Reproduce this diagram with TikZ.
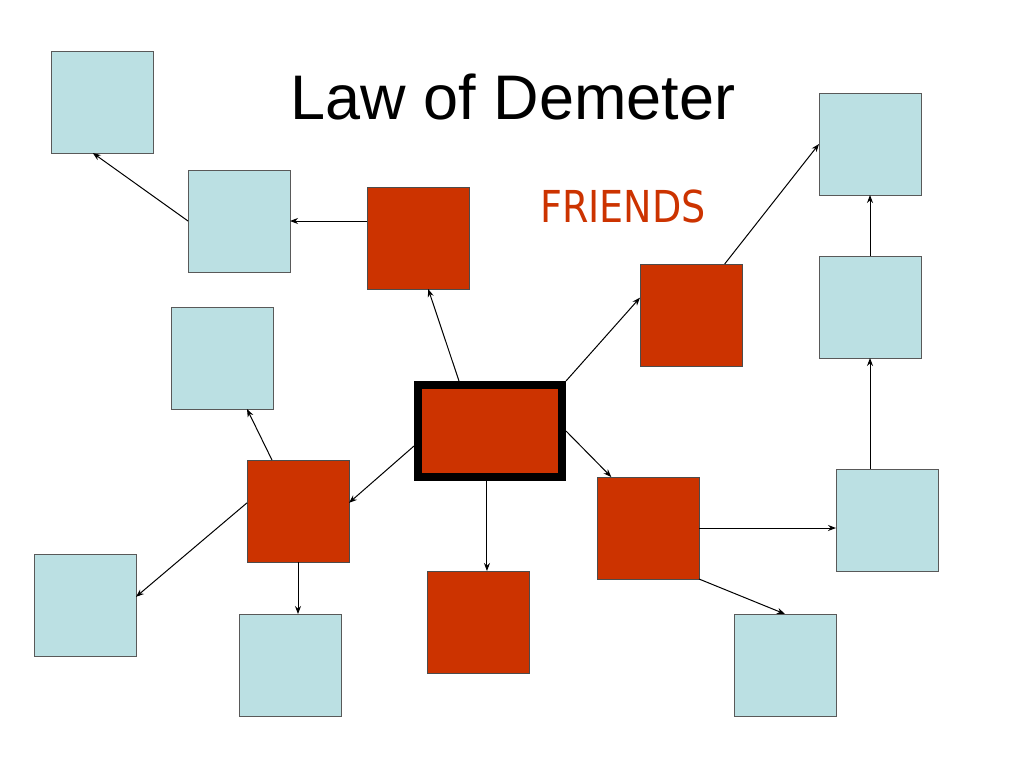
\documentclass[tikz,border=0pt]{standalone}
\usepackage{graphicx}
\usepackage{fontspec}
\setmainfont{Liberation Sans}
\newfontfamily\friendsfont{DejaVu Sans}
\usetikzlibrary{calc,arrows.meta}
\definecolor{lblue}{HTML}{BBE0E3}
\definecolor{dred}{HTML}{CC3300}
\begin{document}
\begin{tikzpicture}[x=1pt,y=-1pt,
  bluebox/.style={draw=black!65,fill=lblue,line width=0.9pt,minimum width=102pt,minimum height=102pt,inner sep=0pt,outer sep=0pt},
  redbox/.style={draw=black!70,fill=dred,line width=0.9pt,minimum width=102pt,minimum height=102pt,inner sep=0pt,outer sep=0pt},
  conn/.style={line width=1pt,-{Stealth[length=8pt,width=6pt]}}]
\useasboundingbox (0,0) rectangle (1024,768);
\fill[white] (0,0) rectangle (1024,768);
% title
\node[font=\fontsize{63}{63}\selectfont,anchor=base,inner sep=0pt] (title) at (513,119) {Law of Demeter};
\node[font=\friendsfont\fontsize{44}{44}\selectfont,text=dred,anchor=base,inner sep=0pt] (friends) at (623,222) {\scalebox{0.865}[1]{FRIENDS}};
% light blue boxes
\node[bluebox] (L1) at (102,102) {};
\node[bluebox] (L2) at (239,221) {};
\node[bluebox] (L3) at (222,358) {};
\node[bluebox] (L4) at (85,605) {};
\node[bluebox] (L5) at (290,665) {};
\node[bluebox] (R1) at (870,144) {};
\node[bluebox] (R2) at (870,307) {};
\node[bluebox] (R3) at (887,520) {};
\node[bluebox] (R4) at (785,665) {};
% red boxes
\node[redbox] (A) at (418,238) {};
\node[redbox] (B) at (691,315) {};
\node[redbox] (C) at (298,511) {};
\node[redbox] (D) at (478,622) {};
\node[redbox] (E) at (648,528) {};
\node[draw=black,fill=dred,line width=8pt,minimum width=144pt,minimum height=92pt,inner sep=0pt] (Cen) at (490,431) {};
% connectors
\draw[conn] ($(Cen.north west)!0.296!(Cen.north east)$) -- ($(A.south west)!0.6!(A.south east)$);
\draw[conn] (Cen.north east) -- ($(B.north west)!0.33!(B.south west)$);
\draw[conn] ($(Cen.north west)!0.65!(Cen.south west)$) -- ($(C.north east)!0.42!(C.south east)$);
\draw[conn] ($(Cen.south west)!0.48!(Cen.south east)$) coordinate (d0) -- (d0 |- D.north);
\draw[conn] (Cen.east) -- ($(E.north west)!0.14!(E.north east)$);
\draw[conn] (A.west |- L2.east) -- (L2.east);
\draw[conn] (L2.west) -- ($(L1.south west)!0.41!(L1.south east)$);
\draw[conn] ($(B.north west)!0.83!(B.north east)$) -- (R1.west);
\draw[conn] (R2.north) -- (R1.south);
\draw[conn] (R2.south |- R3.north) -- (R2.south);
\draw[conn] (E.east) -- (E.east -| R3.west);
\draw[conn] (E.south east) -- (R4.north);
\draw[conn] ($(C.north west)!0.245!(C.north east)$) -- ($(L3.south west)!0.745!(L3.south east)$);
\draw[conn] ($(C.north west)!0.42!(C.south west)$) -- ($(L4.north east)!0.42!(L4.south east)$);
\draw[conn] (C.south) -- (C.south |- L5.north);
\end{tikzpicture}
\end{document}
